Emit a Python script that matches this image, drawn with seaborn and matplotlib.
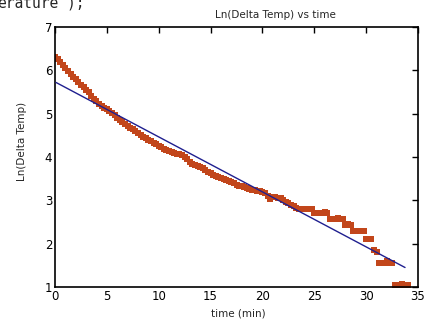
import numpy as np
import pandas as pd
import matplotlib
matplotlib.use("Agg")
import matplotlib.pyplot as plt
import seaborn as sns

# ---- data ----
time_min = [
    0.00, 0.25, 0.50, 0.75, 1.00, 1.25, 1.50, 1.75, 2.00, 2.25, 2.50, 2.75,
    3.00, 3.25, 3.50, 3.75, 4.00, 4.25, 4.50, 4.75, 5.00, 5.25, 5.50, 5.75,
    6.00, 6.25, 6.50, 6.75, 7.00, 7.25, 7.50, 7.75, 8.00, 8.25, 8.50, 8.75,
    9.00, 9.25, 9.50, 9.75, 10.00, 10.25, 10.50, 10.75, 11.00, 11.25, 11.50, 11.75,
    12.00, 12.25, 12.50, 12.75, 13.00, 13.25, 13.50, 13.75, 14.00, 14.25, 14.50, 14.75,
    15.00, 15.25, 15.50, 15.75, 16.00, 16.25, 16.50, 16.75, 17.00, 17.25, 17.50, 17.75,
    18.00, 18.25, 18.50, 18.75, 19.00, 19.25, 19.50, 19.75, 20.00, 20.25, 20.50, 20.75,
    21.00, 21.25, 21.50, 21.75, 22.00, 22.25, 22.50, 22.75, 23.00, 23.25, 23.50, 23.75,
    24.00, 24.25, 24.50, 24.75, 25.00, 25.25, 25.50, 25.75, 26.00, 26.25, 26.50, 26.75,
    27.00, 27.25, 27.50, 27.75, 28.00, 28.25, 28.50, 28.75, 29.00, 29.25, 29.50, 29.75,
    30.00, 30.25, 30.50, 30.75, 31.00, 31.25, 31.50, 31.75, 32.00, 32.25, 32.50, 32.75,
    33.00, 33.25, 33.50, 33.75, 34.00,
]
ln_delta_temp = [
    6.31, 6.27, 6.19, 6.13, 6.05, 5.98, 5.92, 5.85, 5.79, 5.73, 5.67, 5.61,
    5.55, 5.49, 5.41, 5.35, 5.29, 5.23, 5.18, 5.14, 5.10, 5.06, 5.02, 4.97,
    4.91, 4.86, 4.81, 4.76, 4.71, 4.68, 4.64, 4.59, 4.55, 4.51, 4.47, 4.43,
    4.40, 4.37, 4.32, 4.29, 4.26, 4.22, 4.19, 4.16, 4.13, 4.11, 4.09, 4.07,
    4.06, 4.04, 4.00, 3.95, 3.89, 3.83, 3.82, 3.80, 3.78, 3.74, 3.70, 3.66,
    3.62, 3.59, 3.56, 3.53, 3.51, 3.49, 3.46, 3.44, 3.42, 3.39, 3.36, 3.34,
    3.32, 3.30, 3.28, 3.26, 3.25, 3.23, 3.22, 3.21, 3.20, 3.16, 3.10, 3.02,
    3.08, 3.07, 3.06, 3.06, 3.01, 2.97, 2.93, 2.90, 2.86, 2.82, 2.80, 2.80,
    2.80, 2.80, 2.80, 2.80, 2.71, 2.71, 2.71, 2.71, 2.74, 2.71, 2.57, 2.57,
    2.57, 2.60, 2.57, 2.57, 2.43, 2.46, 2.43, 2.30, 2.30, 2.30, 2.30, 2.30,
    2.10, 2.10, 2.10, 1.85, 1.80, 1.56, 1.56, 1.56, 1.59, 1.56, 1.56, 1.05,
    1.05, 1.05, 1.08, 1.05, 1.05,
]
fit_time = [0.1, 33.75]
fit_ln = [5.72, 1.45]

x_ticks = [0, 5, 10, 15, 20, 25, 30, 35]
y_ticks = [1, 2, 3, 4, 5, 6, 7]

title_text = "Ln(Delta Temp) vs time"
xlabel_text = "time (min)"
ylabel_text = "Ln(Delta Temp)"
code_fragment = "erature');"

# ---- plotting ----
sns.set_style("white")
plt.rcParams["font.family"] = ["DejaVu Sans"]

df = pd.DataFrame({"t": time_min, "y": ln_delta_temp})
fit_df = pd.DataFrame({"t": fit_time, "y": fit_ln})

W, H = 430, 325
fig = plt.figure(figsize=(W / 100, H / 100), dpi=100)
fig.patch.set_facecolor("white")
L, R, T, B = 55, 418, 27, 287
ax = fig.add_axes([L / W, 1 - B / H, (R - L) / W, (B - T) / H])

sns.scatterplot(data=df, x="t", y="y", ax=ax, marker="s", s=14,
                color="#c2461b", linewidth=0, legend=False, zorder=2)
sns.lineplot(data=fit_df, x="t", y="y", ax=ax, color="#1f1f8f",
             linewidth=1.0, legend=False, zorder=3)

ax.set_xlim(0, 35)
ax.set_ylim(1, 7)
ax.set_xticks(x_ticks)
ax.set_yticks(y_ticks)
ax.set_xticklabels([str(v) for v in x_ticks])
ax.set_yticklabels([str(v) for v in y_ticks])
ax.tick_params(direction="in", length=4, width=1, colors="black",
               labelsize=8.5, top=True, right=True, pad=2)
for sp in ax.spines.values():
    sp.set_visible(True)
    sp.set_color("black")
    sp.set_linewidth(1.2)

ax.set_xlabel("")
ax.set_ylabel("")
fig.text(275 / W, 1 - 15 / H, title_text, ha="center", va="center", fontsize=7.5)
fig.text(238 / W, 1 - 313 / H, xlabel_text, ha="center", va="center", fontsize=7.5)
fig.text(22 / W, 1 - 141 / H, ylabel_text, ha="center", va="center",
         rotation=90, fontsize=7.5)
fig.text(-3 / W, 1 - 7 / H, code_fragment, ha="left", va="baseline",
         fontsize=10.5, family=["DejaVu Sans Mono"])

fig.savefig("out.png", dpi=100, facecolor="white")
